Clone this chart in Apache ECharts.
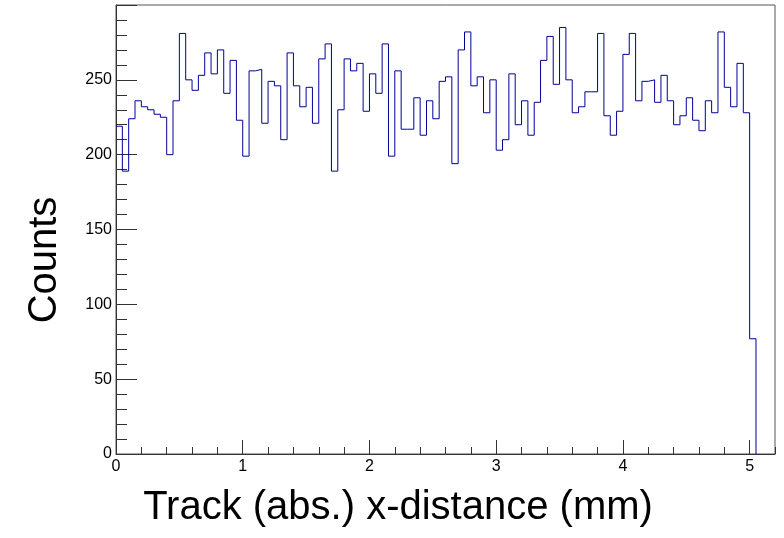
<!DOCTYPE html>
<html>
<head>
<meta charset="utf-8">
<script src="https://cdn.jsdelivr.net/npm/echarts@6/dist/echarts.min.js"></script>
<style>
html,body{margin:0;padding:0;background:#fff;}
#chart{width:784px;height:538px;}
</style>
</head>
<body>
<div id="chart"></div>
<script>
// Histogram: 101 bins of width 0.05 mm starting at 0
const binStart = 0;
const binWidth = 0.05;
const counts = [
  219, 189, 224, 236, 232, 230, 227, 225, 200, 236,
  281, 250, 243, 253, 268, 254, 270, 241, 263, 223,
  199, 256, 257, 221, 249, 246, 210, 268, 246, 232,
  245, 221, 264, 274, 189, 230, 264, 256, 261, 229,
  254, 241, 274, 199, 256, 217, 217, 238, 213, 236,
  224, 249, 252, 194, 270, 282, 246, 252, 228, 250,
  203, 210, 254, 220, 236, 213, 235, 263, 279, 247,
  285, 250, 228, 232, 242, 242, 281, 226, 213, 229,
  267, 281, 236, 249, 250, 235, 253, 236, 220, 226,
  238, 223, 216, 236, 228, 282, 245, 232, 261, 228,
  77
];
const xTickLabels = ['0', '1', '2', '3', '4', '5'];
const yTickLabels = ['0', '50', '100', '150', '200', '250'];
const xTitle = 'Track (abs.) x-distance (mm)';
const yTitle = 'Counts';

// Build step-line points from bins
const pts = [];
for (let i = 0; i < counts.length; i++) {
  pts.push([binStart + i * binWidth, counts[i]]);
}
const lastEdge = binStart + counts.length * binWidth;
pts.push([lastEdge, counts[counts.length - 1]]);
pts.push([lastEdge, 0]);

const FONT = '"Liberation Sans", Arial, Helvetica, sans-serif';
const AX = '#333';

const chart = echarts.init(document.getElementById('chart'), null, {renderer: 'canvas'});
chart.setOption({
  animation: false,
  backgroundColor: '#fff',
  grid: {left: 116, right: 9, top: 5, bottom: 84, show: true, borderColor: '#555', borderWidth: 1, backgroundColor: 'transparent'},
  xAxis: [
    {
      type: 'value', min: 0, max: 5.2, interval: 1, position: 'bottom',
      axisLine: {show: true, onZero: false, lineStyle: {color: AX, width: 1}},
      axisTick: {show: true, inside: true, length: 14, lineStyle: {color: AX}},
      minorTick: {show: false},
      splitLine: {show: false},
      axisLabel: {
        show: true, margin: 5, fontSize: 16, fontFamily: FONT, color: '#000',
        showMaxLabel: false,
        formatter: function (v) { const i = Math.round(v); return (Math.abs(v - i) < 1e-6 && xTickLabels[i] !== undefined) ? xTickLabels[i] : ''; }
      }
    },
    {
      type: 'value', min: 0, max: 5.2, interval: 0.2, position: 'bottom',
      axisLine: {show: false, onZero: false},
      axisTick: {show: true, inside: true, length: 7, lineStyle: {color: AX}},
      splitLine: {show: false},
      axisLabel: {show: false}
    }
  ],
  yAxis: [
    {
      type: 'value', min: 0, max: 300, interval: 50,
      axisLine: {show: true, onZero: false, lineStyle: {color: AX, width: 1}},
      axisTick: {show: true, inside: true, length: 21, lineStyle: {color: AX}},
      minorTick: {show: true, splitNumber: 5, length: 11, lineStyle: {color: AX}},
      splitLine: {show: false},
      axisLabel: {
        show: true, margin: 4, fontSize: 16, fontFamily: FONT, color: '#000',
        showMaxLabel: false,
        formatter: function (v) { const i = Math.round(v / 50); return yTickLabels[i] !== undefined ? yTickLabels[i] : ''; }
      }
    }
  ],
  graphic: [
    {
      type: 'text',
      x: 398, y: 508,
      style: {text: xTitle, font: '40px ' + FONT, fill: '#000', textAlign: 'center', textVerticalAlign: 'middle'}
    },
    {
      type: 'text',
      x: 45, y: 260, rotation: Math.PI / 2,
      style: {text: yTitle, font: '40px ' + FONT, fill: '#000', textAlign: 'center', textVerticalAlign: 'middle'}
    }
  ],
  series: [
    {
      type: 'line', xAxisIndex: 0, yAxisIndex: 0,
      step: 'end', data: pts, showSymbol: false, symbol: 'none',
      lineStyle: {color: '#000099', width: 1},
      silent: true
    }
  ]
});
</script>
</body>
</html>
